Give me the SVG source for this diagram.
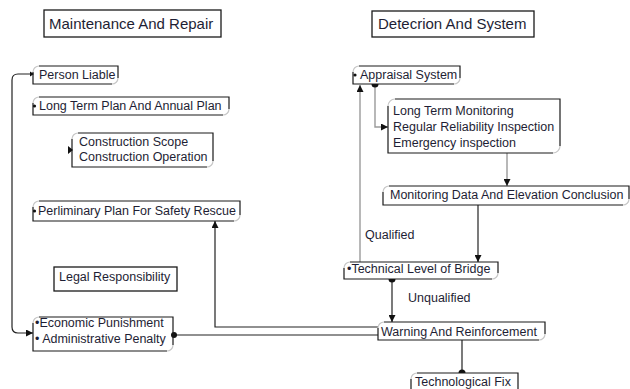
<svg xmlns="http://www.w3.org/2000/svg" width="630" height="389" viewBox="0 0 630 389">
  <style>
    text { font-family: "Liberation Sans", Arial, sans-serif; font-size: 12.5px; fill: #1e1e34; }
    .title { font-size: 15px; }
    .edge { fill: none; stroke: #1a1a1a; stroke-width: 1.2; }
    .soft { fill: none; stroke: #c8c8c8; stroke-width: 1.2; }
    .plain { fill: #fff; stroke: #1a1a1a; stroke-width: 1.3; }
    .wire { fill: none; stroke: #222; stroke-width: 1.2; }
    .wire-grey { fill: none; stroke: #9a9a9a; stroke-width: 1.4; }
    .tip { fill: #111; }
  </style>
  <defs>
    <marker id="arrow" viewBox="0 0 10 10" refX="10" refY="5" markerWidth="5" markerHeight="5" orient="auto" markerUnits="userSpaceOnUse">
      <path d="M0,0 L10,5 L0,10 z" fill="#111"/>
    </marker>
    <marker id="arrow-lg" viewBox="0 0 10 10" refX="10" refY="5" markerWidth="7" markerHeight="7" orient="auto" markerUnits="userSpaceOnUse">
      <path d="M0,0 L10,5 L0,10 z" fill="#111"/>
    </marker>
    <marker id="dot" viewBox="0 0 10 10" refX="5" refY="5" markerWidth="5" markerHeight="5" markerUnits="userSpaceOnUse">
      <circle cx="5" cy="5" r="5" fill="#111"/>
    </marker>
  </defs>

  <!-- connectors -->
  <g id="connectors">
    <!-- feedback loop on the left: Person Liable ... Economic Punishment -->
    <path class="wire" d="M33,74 H18 Q12,74 12,80 V327 Q12,333 18,333 H33" marker-end="url(#arrow-lg)"/>
    <polygon class="tip" points="30,71.5 34,74 30,76.5"/>
    <!-- Appraisal System -> Long Term Monitoring -->
    <path class="wire-grey" d="M375,84 V127 H388" marker-end="url(#arrow-lg)"/>
    <path d="M371.5,84 A3.5,3.5 0 0 0 378.5,84 z" class="tip"/>
    <!-- Qualified: Technical Level -> Appraisal System -->
    <path class="wire-grey" d="M360,262 V85" marker-end="url(#arrow-lg)"/>
    <!-- Long Term Monitoring -> Monitoring Data -->
    <path class="wire-grey" d="M507,153 V186" marker-end="url(#arrow-lg)"/>
    <!-- Monitoring Data -> Technical Level -->
    <path class="wire" d="M478,205 V262" marker-end="url(#arrow-lg)"/>
    <!-- Unqualified: Technical Level -> Warning -->
    <path class="wire" d="M392,279 V322" marker-end="url(#arrow-lg)"/>
    <path d="M388.5,279 A3.5,3.5 0 0 0 395.5,279 z" class="tip"/>
    <!-- Warning -> Perliminary Plan -->
    <path class="wire" d="M378,327 H215 V221" marker-end="url(#arrow-lg)"/>
    <!-- Economic Punishment -> Warning -->
    <path class="wire" d="M173,335 H378"/>
    <circle cx="174" cy="335" r="3" class="tip"/>
    <!-- Warning -> Technological Fix -->
    <path class="wire" d="M462,340 V373"/>
    <path d="M458.5,373 A3.5,3.5 0 0 1 465.5,373 z" class="tip"/>
    <!-- edge labels -->
    <text x="365" y="239">Qualified</text>
    <text x="408" y="302">Unqualified</text>
  </g>

  <!-- column headings -->
  <g id="maintenance-title">
    <rect class="plain" x="44" y="10" width="177" height="27"/>
    <text class="title" x="49" y="29">Maintenance And Repair</text>
  </g>
  <g id="detection-title">
    <rect class="plain" x="372" y="11" width="162" height="26"/>
    <text class="title" x="378" y="29">Detecrion And System</text>
  </g>

  <!-- left column -->
  <g id="person-liable">
    <path class="edge" d="M33,72 V84 H112 M39,66 H118 V78"/>
    <path class="soft" d="M33,72 A6,6 0 0 1 39,66 M118,78 A6,6 0 0 1 112,84"/>
    <text x="39" y="79">Person Liable</text>
  </g>
  <g id="long-term-plan">
    <path class="edge" d="M33,103 V115 H223 M39,97 H229 V109"/>
    <path class="soft" d="M33,103 A6,6 0 0 1 39,97 M229,109 A6,6 0 0 1 223,115"/>
    <circle cx="34.5" cy="106" r="1.6" class="tip"/>
    <text x="39" y="110">Long Term Plan And Annual Plan</text>
  </g>
  <g id="construction">
    <path class="edge" d="M72,139 V167 H207 M78,133 H213 V161"/>
    <path class="soft" d="M72,139 A6,6 0 0 1 78,133 M213,161 A6,6 0 0 1 207,167"/>
    <polygon class="tip" points="68,146 73,150 68,154"/>
    <text x="79" y="146">Construction Scope</text>
    <text x="79" y="161">Construction Operation</text>
  </g>
  <g id="preliminary-plan">
    <path class="edge" d="M33,207 V221 H234 M39,201 H240 V215"/>
    <path class="soft" d="M33,207 A6,6 0 0 1 39,201 M240,215 A6,6 0 0 1 234,221"/>
    <circle cx="34.5" cy="211" r="1.6" class="tip"/>
    <text x="38" y="215">Perliminary Plan For Safety Rescue</text>
  </g>
  <g id="legal-responsibility">
    <rect class="plain" x="54" y="267" width="123" height="24"/>
    <text x="59" y="281">Legal Responsibility</text>
  </g>
  <g id="penalties">
    <path class="edge" d="M33,323 V351 H167 M39,317 H173 V345"/>
    <path class="soft" d="M33,323 A6,6 0 0 1 39,317 M173,345 A6,6 0 0 1 167,351"/>
    <text x="35" y="327">•Economic  Punishment</text>
    <text x="35" y="343">• Administrative Penalty</text>
  </g>

  <!-- right column -->
  <g id="appraisal-system">
    <path class="edge" d="M353,72 V84 H454 M359,66 H460 V78"/>
    <path class="soft" d="M353,72 A6,6 0 0 1 359,66 M460,78 A6,6 0 0 1 454,84"/>
    <circle cx="355" cy="75" r="1.6" class="tip"/>
    <text x="360" y="79">Appraisal System</text>
  </g>
  <g id="monitoring-plan">
    <path class="edge" d="M388,106 V153 H553 M395,99 H560 V146"/>
    <path class="soft" d="M388,106 A7,7 0 0 1 395,99 M560,146 A7,7 0 0 1 553,153"/>
    <text x="393" y="115">Long Term Monitoring</text>
    <text x="393" y="131">Regular Reliability Inspection</text>
    <text x="393" y="147">Emergency inspection</text>
  </g>
  <g id="monitoring-data">
    <path class="edge" d="M383,192 V205 H623 M389,186 H629 V199"/>
    <path class="soft" d="M383,192 A6,6 0 0 1 389,186 M629,199 A6,6 0 0 1 623,205"/>
    <text x="390" y="199">Monitoring Data And Elevation Conclusion</text>
  </g>
  <g id="technical-level">
    <path class="edge" d="M344,268 V279 H492 M350,262 H498 V273"/>
    <path class="soft" d="M344,268 A6,6 0 0 1 350,262 M498,273 A6,6 0 0 1 492,279"/>
    <text x="347" y="273">•Technical Level of Bridge</text>
  </g>
  <g id="warning">
    <path class="edge" d="M378,328 V340 H539 M384,322 H545 V334"/>
    <path class="soft" d="M378,328 A6,6 0 0 1 384,322 M545,334 A6,6 0 0 1 539,340"/>
    <text x="381" y="336">Warning And Reinforcement</text>
  </g>
  <g id="technological-fix">
    <path class="edge" d="M411,379 V390 M417,373 H518 V390"/>
    <path class="soft" d="M411,379 A6,6 0 0 1 417,373"/>
    <text x="415" y="386">Technological Fix</text>
  </g>
</svg>
